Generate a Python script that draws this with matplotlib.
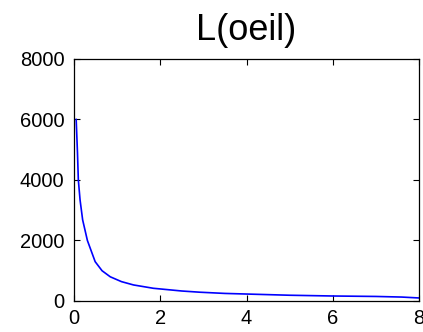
import matplotlib
matplotlib.use("Agg")
import matplotlib.pyplot as plt

# values
x_vals = [0.05, 0.08, 0.1, 0.14, 0.2, 0.31, 0.49, 0.65, 0.84, 1.1, 1.38, 1.84,
          2.5, 2.92, 3.5, 4.0, 5.0, 6.0, 7.0, 7.6, 8.0]
y_vals = [6000, 4900, 4000, 3340, 2680, 2000, 1300, 1000, 800, 640, 530, 420,
          330, 290, 250, 230, 190, 165, 150, 130, 100]
x_ticks = [0, 2, 4, 6, 8]
y_ticks = [0, 2000, 4000, 6000, 8000]
title = "L(oeil)"

plt.rcParams["font.family"] = ["Liberation Sans", "DejaVu Sans"]

fig = plt.figure(figsize=(4.23, 3.32), dpi=100)
ax = fig.add_axes([0.175, 0.0934, 0.8156, 0.729])
ax.plot(x_vals, y_vals, color="#0000ff", linewidth=1.2)

ax.set_xlim(0, 8)
ax.set_ylim(0, 8000)
ax.set_xticks(x_ticks)
ax.set_yticks(y_ticks)
ax.tick_params(direction="in", top=True, right=True, length=4, width=0.8,
               labelsize=14.5)
ax.tick_params(axis="x", pad=6)
ax.tick_params(axis="y", pad=7)
for s in ax.spines.values():
    s.set_linewidth(0.9)
ax.set_title(title, fontsize=26, pad=14)

fig.savefig("out.png", dpi=100)
